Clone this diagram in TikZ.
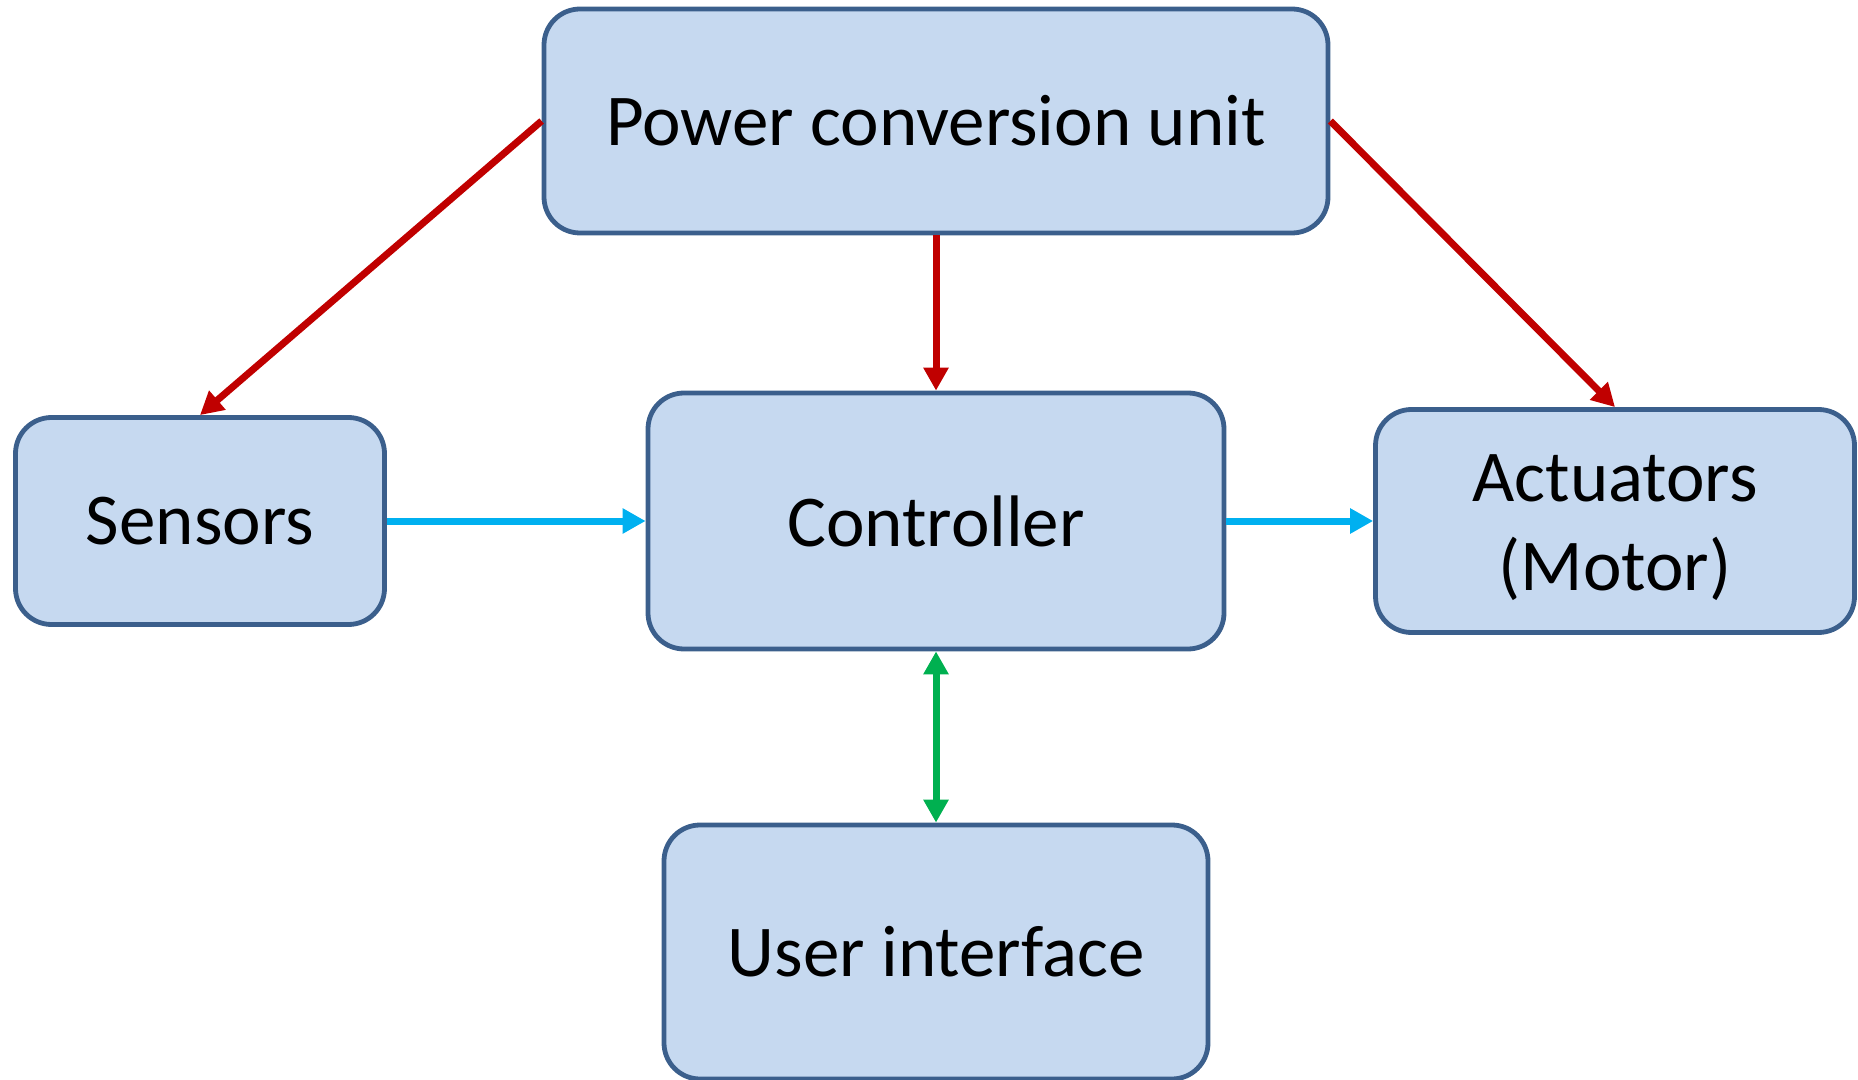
\documentclass[tikz,border=0pt]{standalone}
\usepackage{fontspec}
\setmainfont{Carlito}
\usepackage{tikz}
\usetikzlibrary{arrows.meta, positioning}
\definecolor{boxfill}{HTML}{C6D9F0}
\definecolor{boxline}{HTML}{3B5F8C}
\definecolor{powerred}{HTML}{C00000}
\definecolor{signalblue}{HTML}{00B0F0}
\definecolor{uigreen}{HTML}{00B050}
\tikzset{
x=0.5pt, y=-0.5pt, % one unit is one pixel of the reference, y downwards
>={Triangle[length=11.5pt, width=12pt]}, % filled triangle heads
block/.style={draw=boxline, fill=boxfill, line width=2.4pt, rounded corners=18pt,
  align=center, font=\fontsize{36.5}{44.5}\selectfont, inner sep=0pt}, % the boxes
power/.style={->, draw=powerred, line width=3.5pt}, % supply lines
signal/.style={->, draw=signalblue, line width=3.5pt}, % signal lines
userlink/.style={<->, draw=uigreen, line width=3.5pt}, % two way link
}
\begin{document}
\begin{tikzpicture}
    \useasboundingbox (0,0) rectangle (1858,1080);
    \node[block, minimum width=392pt, minimum height=112pt] (pcu) at (936,121) {Power conversion unit};
    \node[block, minimum width=184.5pt, minimum height=103.5pt] (sens) at (200,521) {Sensors};
    \node[block, minimum width=288pt, minimum height=128pt] (ctrl) at (936,521) {Controller};
    \node[block, minimum width=239.5pt, minimum height=111.5pt] (act) at (1615,521) {\rule{0pt}{30pt}Actuators\\(Motor)};
    \node[block, minimum width=272pt, minimum height=127pt] (ui) at (936,952) {User interface};

    \draw[power] (pcu.west) -- (sens.north);
    \draw[power] (pcu.south) -- (ctrl.north);
    \draw[power] (pcu.east) -- (act.north);
    \draw[signal] (sens.east) -- (ctrl.west);
    \draw[signal] (ctrl.east) -- (act.west);
    \draw[userlink] (ctrl.south) -- (ui.north);
\end{tikzpicture}
\end{document}
